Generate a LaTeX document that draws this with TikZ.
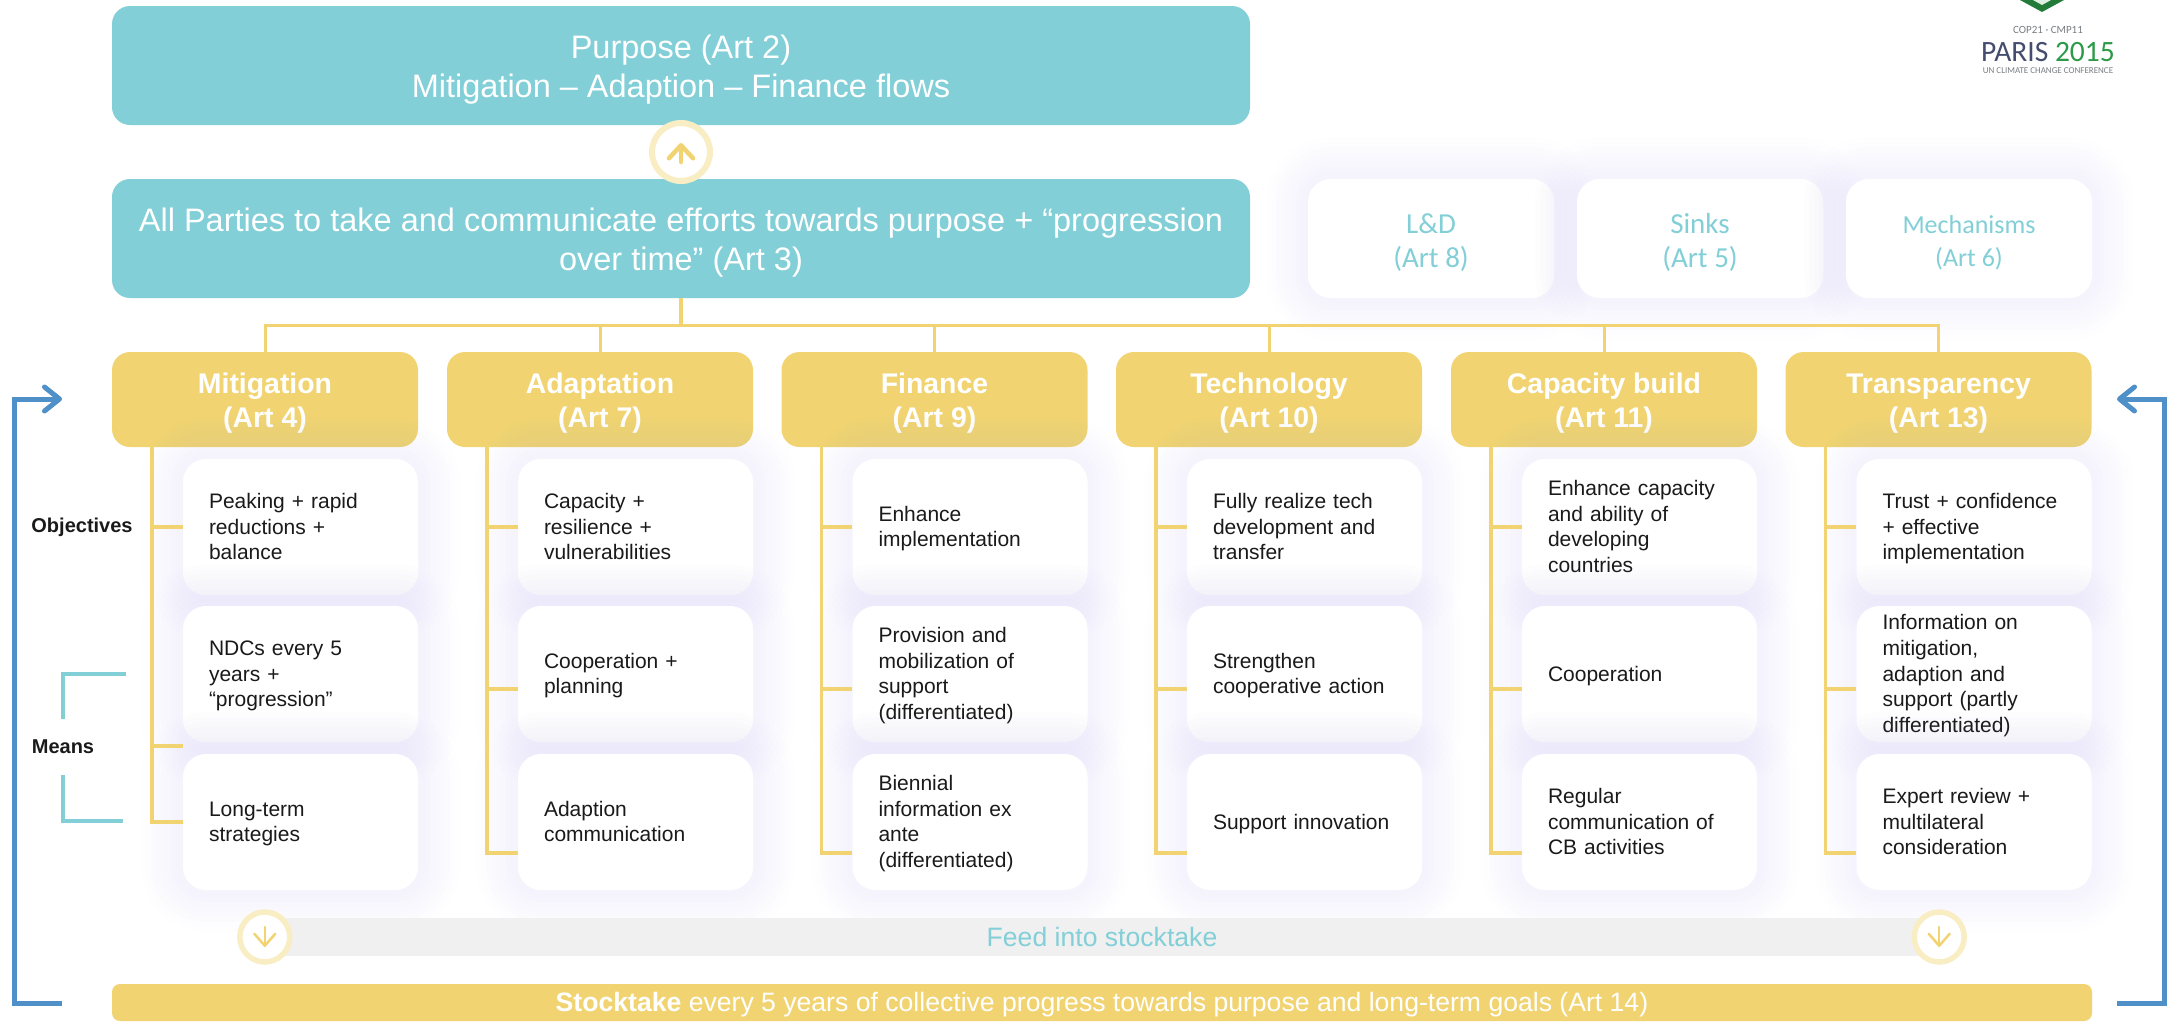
\documentclass[tikz,border=0pt]{standalone}
\usepackage{fontspec}
\setmainfont{Liberation Sans}
\newfontfamily\sidefont{Carlito}
\usetikzlibrary{arrows.meta,positioning,calc}
\definecolor{purposeteal}{RGB}{130,207,215}
\definecolor{themeyellow}{RGB}{241,212,113}
\definecolor{ringyellow}{RGB}{249,237,196}
\definecolor{loopblue}{RGB}{80,144,200}
\definecolor{feedgray}{RGB}{240,240,240}
\definecolor{glowlav}{RGB}{150,135,230}
\definecolor{notetext}{RGB}{26,26,26}
\definecolor{logonavy}{RGB}{69,77,110}
\definecolor{logogreen}{RGB}{44,154,72}
\definecolor{logogray}{RGB}{120,125,130}

\begin{document}
\begin{tikzpicture}[
    x=1pt, y=-1pt,
    glow/.style={preaction={draw=glowlav, line width=#1, draw opacity=0.013}},
    softglow/.style={glow=84pt, glow=74pt, glow=64pt, glow=54pt, glow=44pt, glow=34pt, glow=24pt, glow=14pt},
    struts/.style 2 args={execute at begin node={\rule{0pt}{#1}}, execute at end node={\rule[-#2]{0pt}{0pt}}},
    purpose/.style={rectangle, rounded corners=18pt, fill=purposeteal, text=white, align=flush center,
        inner xsep=0pt, text width=1138pt, minimum height=119pt, struts={32pt}{7pt},
        font=\fontsize{32.5}{38.7}\selectfont},
    theme/.style={rectangle, rounded corners=18pt, fill=themeyellow, text=white, align=flush center,
        inner xsep=0pt, text width=306pt, minimum height=95pt, struts={28pt}{6pt},
        font=\bfseries\fontsize{28.4}{34.5}\selectfont},
    note/.style={rectangle, rounded corners=23pt, softglow, fill=white, text=notetext, align=left,
        minimum width=235pt, minimum height=136pt, inner xsep=26pt, inner ysep=0pt, text width=183pt,
        struts={19pt}{5pt}, font=\fontsize{21}{25.7}\selectfont},
    sidebox/.style={rectangle, rounded corners=23pt, softglow, fill=white, text=purposeteal, align=flush center,
        inner xsep=0pt, text width=246pt, minimum height=119pt, struts={30pt}{7pt},
        font=\sidefont\fontsize{29}{34}\selectfont},
    rowlabel/.style={font=\bfseries\fontsize{20}{24}\selectfont, text=notetext},
    ring/.style={circle, fill=white, draw=ringyellow, inner sep=0pt},
    branch/.style={draw=themeyellow, line width=3.5pt},
    bracket/.style={draw=purposeteal, line width=3.5pt},
    loopline/.style={draw=loopblue, line width=5pt, -{Straight Barb[length=15pt, width=24pt, line width=5pt, round]}}
]
\useasboundingbox (0,0) rectangle (2172,1021);

% Purpose boxes
\node[purpose] (purpose) at (681,65.5) {Purpose (Art 2)\\Mitigation – Adaption – Finance flows};
\node[purpose] (parties) at (681,238.5) {All Parties to take and communicate efforts towards purpose + “progression\\over time” (Art 3)};
\node[ring, line width=6pt, minimum size=58pt] (uparrow) at (681,152) {};
\draw[themeyellow, line width=4.5pt, line cap=round, -{Straight Barb[length=13pt, width=24pt, line width=4.5pt, round]}]
    ($(uparrow)+(0,10)$) -- ($(uparrow)+(0,-9)$);

% Other articles
\node[sidebox] (lossdamage) at (1431,238.5) {L\&D\\(Art 8)};
\node[sidebox] (sinks) at (1700,238.5) {Sinks\\(Art 5)};
\node[sidebox, struts={27pt}{8pt}, font=\sidefont\fontsize{26}{33}\selectfont] (mechanisms) at (1969,238.5) {Mechanisms\\(Art 6)};

% Columns
\foreach \c/\xpos/\title/\one/\two/\three in {
    1/265/{Mitigation\\(Art 4)}/{Peaking + rapid\\reductions +\\balance}/{NDCs every 5\\years +\\“progression”}/{Long-term\\strategies},
    2/600/{Adaptation\\(Art 7)}/{Capacity +\\resilience +\\vulnerabilities}/{Cooperation +\\planning}/{Adaption\\communication},
    3/934.5/{Finance\\(Art 9)}/{Enhance\\implementation}/{Provision and\\mobilization of\\support\\(differentiated)}/{Biennial\\information ex\\ante\\(differentiated)},
    4/1269/{Technology\\(Art 10)}/{Fully realize tech\\development and\\transfer}/{Strengthen\\cooperative action}/{Support innovation},
    5/1604/{Capacity build\\(Art 11)}/{Enhance capacity\\and ability of\\developing\\countries}/{Cooperation}/{Regular\\communication of\\CB activities},
    6/1938.5/{Transparency\\(Art 13)}/{Trust + confidence\\+ effective\\implementation}/{Information on\\mitigation,\\adaption and\\support (partly\\differentiated)}/{Expert review +\\multilateral\\consideration}} {
    \node[theme] (head\c) at (\xpos,399.5) {\title};
    \node[note] (box\c1) at (\xpos+35.5,527) {\one};
    \node[note] (box\c2) at (\xpos+35.5,674) {\two};
    \node[note] (box\c3) at (\xpos+35.5,822) {\three};
}

% Tree from the parties box to the columns
\coordinate (bus) at (681,325);
\draw[branch] (parties.south) -- (bus);
\foreach \c in {1,2,3,4,5,6} {
    \draw[branch, line width=3pt] (head\c.north) |- (bus);
}

% Spines below the column heads
\foreach \c/\tick/\ticklast in {1/72/0,2/15/31,3/15/31,4/15/31,5/15/31,6/15/31} {
    \coordinate (spine\c) at ($(head\c.south west)+(40,0)$);
    \draw[branch] (spine\c) |- (box\c1.west);
    \draw[branch] (spine\c) |- ($(box\c2.west)+(0,\tick)$);
    \draw[branch] (spine\c) |- ($(box\c3.west)+(0,\ticklast)$);
}

% Row labels
\node[rowlabel, left=50pt of box11.west, inner xsep=0pt] (objectives) {Objectives};
\node[rowlabel, minimum height=56pt, inner xsep=0pt] (means) at (63,747) {Means};
\coordinate (meanstop) at (126,674);
\coordinate (meansbottom) at (123,821);
\draw[bracket] (means.north) |- (meanstop);
\draw[bracket] (means.south) |- (meansbottom);

% Stocktake
\node[rectangle, fill=feedgray, text=purposeteal, minimum width=1674pt, minimum height=38pt,
    inner sep=0pt, font=\fontsize{26.6}{30}\selectfont] (feed) at (1102,937) {Feed into stocktake};
\foreach \side in {west,east} {
    \node[ring, line width=5.5pt, minimum size=50pt] (down\side) at (feed.\side) {};
    \draw[themeyellow, line width=2.5pt, line cap=round, -{Straight Barb[length=12pt, width=21pt, line width=2.5pt, round]}]
        ($(down\side)+(0,-10)$) -- ($(down\side)+(0,10)$);
}
\node[rectangle, rounded corners=8pt, fill=themeyellow, text=white, minimum width=1980pt, minimum height=37pt,
    inner sep=0pt, struts={24pt}{5pt}, font=\fontsize{26.6}{30}\selectfont] (stocktake) at (1102,1002.5)
    {\textbf{Stocktake} every 5 years of collective progress towards purpose and long-term goals (Art 14)};

% Feedback loops
\coordinate (loopleftstart) at (62,1003);
\coordinate (loopleftcorner) at (14,1003);
\coordinate (loopleftend) at (62,399);
\coordinate (looprightstart) at (2117,1003);
\coordinate (looprightcorner) at (2164,1003);
\coordinate (looprightend) at (2117,399);
\draw[loopline] (loopleftstart) -- (loopleftcorner) |- (loopleftend);
\draw[loopline] (looprightstart) -- (looprightcorner) |- (looprightend);

% Logo
\fill[logogreen!80!black] (2020,0) -- (2042,12) -- (2064,0) -- cycle;
\fill[white!85!logogreen] (2033,0) -- (2042,5) -- (2051,0) -- cycle;
\node[text=logogray, font=\sidefont\fontsize{11}{13}\selectfont, inner sep=0pt] (logocop) at (2048,30) {COP21 · CMP11};
\node[font=\sidefont\fontsize{29.5}{33}\selectfont, inner sep=0pt] (logoparis) at (2048,52) {\textcolor{logonavy}{PARIS} \textcolor{logogreen}{2015}};
\node[text=logogray, font=\sidefont\fontsize{9}{10}\selectfont, inner sep=0pt] (logoun) at (2048,71) {UN CLIMATE CHANGE CONFERENCE};

\end{tikzpicture}
\end{document}
